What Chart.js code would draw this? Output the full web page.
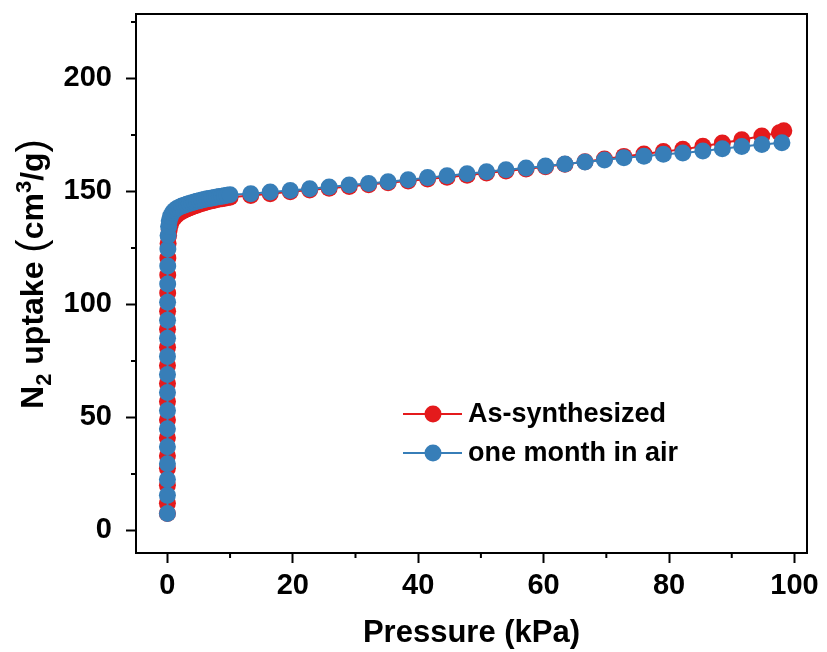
<!DOCTYPE html>
<html>
<head>
<meta charset="utf-8">
<script src="https://cdn.jsdelivr.net/npm/chart.js@4"></script>
<style>
  html, body { margin: 0; padding: 0; background: #fff; }
  canvas { display: block; }
</style>
</head>
<body>
<canvas id="iso" width="827" height="652"></canvas>
<script>
// N2 isotherm, as-synthesized sample
const asSynPressure = [
  0.01, 0.01, 0.01, 0.01, 0.01, 0.01, 0.02, 0.02, 0.02, 0.02, 0.03, 0.03, 0.04, 0.05, 0.06, 0.08, 0.12,
  0.2, 0.3, 0.5, 0.8, 1.1, 1.5, 1.9, 2.3, 2.7, 3.1, 3.5, 3.9, 4.3, 4.7, 5.1, 5.5, 5.9, 6.3, 6.7, 7.1,
  7.5, 7.9, 8.3, 8.7, 9.1, 9.5, 10.0,
  13.3, 16.4, 19.6, 22.7, 25.8, 29.0, 32.1, 35.2, 38.4, 41.5, 44.6, 47.8, 50.9, 54.0, 57.2, 60.3,
  63.4, 66.6, 69.7, 72.8, 76.0, 79.1, 82.2, 85.4, 88.5, 91.6, 94.8, 97.6, 98.3
];
const asSynUptake = [
  7.5, 12, 20, 27.5, 33, 41, 49, 57, 65, 73, 81, 89, 97, 105, 113, 120.5, 127,
  130.5, 133, 135.5, 137.3, 138.5, 139.6, 140.4, 141.1, 141.7, 142.2, 142.7, 143.1, 143.5, 143.9, 144.3, 144.6, 145.0, 145.3, 145.6, 145.9,
  146.1, 146.4, 146.6, 146.8, 147.0, 147.2, 147.4,
  148.2, 149.0, 149.8, 150.6, 151.4, 152.2, 153.0, 153.8, 154.6, 155.5, 156.3, 157.2, 158.1, 159.0, 159.9, 160.9,
  162.0, 163.1, 164.3, 165.5, 166.6, 167.7, 168.6, 170.0, 171.4, 172.9, 174.5, 176.0, 176.8
];

// same sample after one month in air
const airPressure = [
  0.01, 0.01, 0.01, 0.01, 0.01, 0.01, 0.02, 0.02, 0.02, 0.02, 0.03, 0.03, 0.04, 0.05, 0.06, 0.08, 0.12,
  0.2, 0.3, 0.5, 0.8, 1.1, 1.5, 1.9, 2.3, 2.7, 3.1, 3.5, 3.9, 4.3, 4.7, 5.1, 5.5, 5.9, 6.3, 6.7, 7.1,
  7.5, 7.9, 8.3, 8.7, 9.1, 9.5, 10.0,
  13.3, 16.4, 19.6, 22.7, 25.8, 29.0, 32.1, 35.2, 38.4, 41.5, 44.6, 47.8, 50.9, 54.0, 57.2, 60.3,
  63.4, 66.6, 69.7, 72.8, 76.0, 79.1, 82.2, 85.4, 88.5, 91.6, 94.8, 98.0
];
const airUptake = [
  7.5, 15.5, 22.5, 29.5, 37, 45, 53, 61, 69, 77, 85, 93, 101, 109, 117, 124.5, 130.5,
  134.5, 137, 139, 140.6, 141.6, 142.4, 143.0, 143.5, 143.9, 144.3, 144.7, 145.0, 145.3, 145.6, 145.9, 146.2, 146.4, 146.7, 146.9, 147.1,
  147.3, 147.5, 147.7, 147.9, 148.1, 148.3, 148.5,
  149.0, 149.7, 150.4, 151.2, 152.0, 152.8, 153.5, 154.3, 155.2, 156.1, 156.9, 157.8, 158.7, 159.6, 160.4, 161.2,
  162.1, 163.0, 163.9, 164.9, 165.6, 166.4, 167.0, 167.9, 168.9, 169.9, 170.8, 171.5
];

const seriesNames = ['As-synthesized', 'one month in air'];
const seriesColors = ['#e41a1c', '#377eb8'];

const xTicks = [0, 20, 40, 60, 80, 100];
const xMinor = [10, 30, 50, 70, 90];
const yTicks = [0, 50, 100, 150, 200];
const yMinor = [25, 75, 125, 175, 225];

const FONT = '"Liberation Sans", Arial, sans-serif';

const toPoints = (xs, ys) => xs.map((x, i) => ({ x: x, y: ys[i] }));

// box around the plot plus the short minor ticks
const frame = {
  id: 'frame',
  afterDraw(chart) {
    const ctx = chart.ctx;
    const a = chart.chartArea;
    const xs = chart.scales.x, ys = chart.scales.y;
    ctx.save();
    ctx.strokeStyle = '#000';
    ctx.lineWidth = 2;
    ctx.strokeRect(a.left, a.top, a.right - a.left, a.bottom - a.top);
    ctx.beginPath();
    xMinor.forEach(v => {
      const px = xs.getPixelForValue(v);
      ctx.moveTo(px, a.bottom);
      ctx.lineTo(px, a.bottom + 5);
    });
    yMinor.forEach(v => {
      const py = ys.getPixelForValue(v);
      ctx.moveTo(a.left, py);
      ctx.lineTo(a.left - 5, py);
    });
    ctx.stroke();
    ctx.restore();
  }
};

// y axis title with sub/superscript
const yTitle = {
  id: 'yTitle',
  afterDraw(chart) {
    const ctx = chart.ctx;
    const bold = 'bold 32px ' + FONT;
    const small = 'bold 22px ' + FONT;
    const paren = '40px ' + FONT;
    const parts = [
      { t: 'N', f: bold, dy: 0 },
      { t: '2', f: small, dy: 8 },
      { t: ' uptake ', f: bold, dy: 0 },
      { t: '(', f: paren, dy: 2 },
      { t: 'cm', f: bold, dy: 0 },
      { t: '3', f: small, dy: -12 },
      { t: '/g', f: bold, dy: 0 },
      { t: ')', f: paren, dy: 2 }
    ];
    ctx.save();
    let total = 0;
    parts.forEach(p => { ctx.font = p.f; p.w = ctx.measureText(p.t).width; total += p.w; });
    ctx.translate(43, 274);
    ctx.rotate(-Math.PI / 2);
    ctx.fillStyle = '#000';
    ctx.textBaseline = 'alphabetic';
    let x = -total / 2;
    parts.forEach(p => {
      ctx.font = p.f;
      ctx.fillText(p.t, x, p.dy);
      x += p.w;
    });
    ctx.restore();
  }
};

// legend: short line with a marker in the middle
const lineLegend = {
  id: 'lineLegend',
  afterDraw(chart) {
    const ctx = chart.ctx;
    const rows = [414, 453];
    ctx.save();
    seriesNames.forEach((name, i) => {
      const y = rows[i];
      ctx.strokeStyle = seriesColors[i];
      ctx.lineWidth = 2;
      ctx.beginPath();
      ctx.moveTo(403, y);
      ctx.lineTo(462, y);
      ctx.stroke();
      ctx.fillStyle = seriesColors[i];
      ctx.beginPath();
      ctx.arc(433, y, 8.5, 0, Math.PI * 2);
      ctx.fill();
      ctx.fillStyle = '#000';
      ctx.font = 'bold 27px ' + FONT;
      ctx.textBaseline = 'middle';
      ctx.fillText(name, 468, y + 1);
    });
    ctx.restore();
  }
};

new Chart(document.getElementById('iso'), {
  type: 'line',
  plugins: [frame, yTitle, lineLegend],
  data: {
    datasets: [
      {
        label: seriesNames[0],
        data: toPoints(asSynPressure, asSynUptake),
        borderColor: seriesColors[0],
        backgroundColor: seriesColors[0],
        borderWidth: 2,
        pointRadius: 8.5,
        pointBorderWidth: 0,
        order: 1
      },
      {
        label: seriesNames[1],
        data: toPoints(airPressure, airUptake),
        borderColor: seriesColors[1],
        backgroundColor: seriesColors[1],
        borderWidth: 2,
        pointRadius: 8.5,
        pointBorderWidth: 0,
        order: 0
      }
    ]
  },
  options: {
    responsive: false,
    animation: false,
    devicePixelRatio: 1,
    layout: { padding: { top: 14, right: 20, left: 0, bottom: 0 } },
    plugins: { legend: { display: false }, tooltip: { enabled: false } },
    scales: {
      x: {
        type: 'linear',
        min: -5,
        max: 102,
        afterBuildTicks: s => { s.ticks = xTicks.map(v => ({ value: v })); },
        afterFit: s => { s.height = 99; s.paddingLeft = 0; s.paddingRight = 0; },
        grid: { drawOnChartArea: false, drawTicks: true, tickLength: 10, tickWidth: 2, tickColor: '#000' },
        border: { display: true, color: '#000', width: 2 },
        ticks: { color: '#000', font: { family: FONT, size: 29, weight: 'bold' }, padding: 6, maxRotation: 0 },
        title: { display: true, text: 'Pressure (kPa)', color: '#000', font: { family: FONT, size: 31, weight: 'bold' }, padding: { top: 0, bottom: 0 } }
      },
      y: {
        type: 'linear',
        min: -10,
        max: 228.5,
        afterBuildTicks: s => { s.ticks = yTicks.map(v => ({ value: v })); },
        afterFit: s => { s.width = 136; s.paddingTop = 0; s.paddingBottom = 0; },
        grid: { drawOnChartArea: false, drawTicks: true, tickLength: 10, tickWidth: 2, tickColor: '#000' },
        border: { display: true, color: '#000', width: 2 },
        ticks: { color: '#000', font: { family: FONT, size: 29, weight: 'bold' }, padding: 14 }
      }
    }
  }
});
</script>
</body>
</html>
